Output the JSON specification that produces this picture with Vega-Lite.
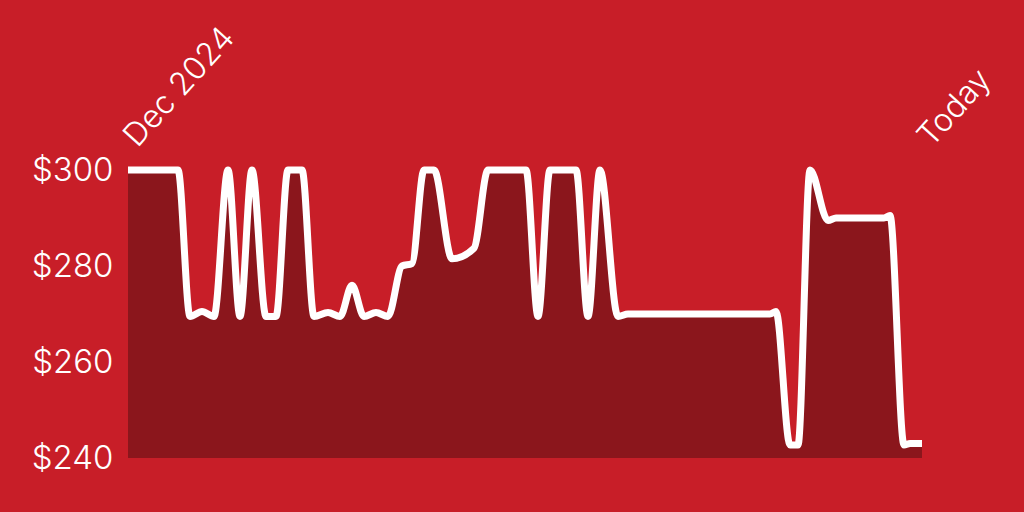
{
  "$schema": "https://vega.github.io/schema/vega-lite/v6.json",
  "width": 794,
  "height": 288,
  "autosize": {"type": "none"},
  "padding": {"left": 128, "top": 170, "right": 102, "bottom": 54},
  "background": "#C81E28",
  "config": {
    "view": {"stroke": null},
    "font": "Inter"
  },
  "data": {
    "values": [
      {"date": "2024-12-01", "price": 300},
      {"date": "2024-12-26", "price": 300},
      {"date": "2025-01-01", "price": 269.5},
      {"date": "2025-01-07", "price": 270.5},
      {"date": "2025-01-13", "price": 269.5},
      {"date": "2025-01-20", "price": 300},
      {"date": "2025-01-26", "price": 269.5},
      {"date": "2025-02-01", "price": 300},
      {"date": "2025-02-08", "price": 269.5},
      {"date": "2025-02-13", "price": 269.5},
      {"date": "2025-02-19", "price": 300},
      {"date": "2025-02-26", "price": 300},
      {"date": "2025-03-04", "price": 269.5},
      {"date": "2025-03-11", "price": 270.3},
      {"date": "2025-03-17", "price": 269.5},
      {"date": "2025-03-23", "price": 276},
      {"date": "2025-03-29", "price": 269.5},
      {"date": "2025-04-04", "price": 270.3},
      {"date": "2025-04-10", "price": 269.5},
      {"date": "2025-04-17", "price": 280},
      {"date": "2025-04-22", "price": 280.5},
      {"date": "2025-04-28", "price": 300},
      {"date": "2025-05-03", "price": 300},
      {"date": "2025-05-12", "price": 281.5},
      {"date": "2025-05-23", "price": 283.7},
      {"date": "2025-05-30", "price": 300},
      {"date": "2025-06-18", "price": 300},
      {"date": "2025-06-24", "price": 269.5},
      {"date": "2025-06-30", "price": 300},
      {"date": "2025-07-13", "price": 300},
      {"date": "2025-07-19", "price": 269.5},
      {"date": "2025-07-25", "price": 300},
      {"date": "2025-08-03", "price": 269.5},
      {"date": "2025-08-08", "price": 270},
      {"date": "2025-10-18", "price": 270},
      {"date": "2025-10-21", "price": 270.5},
      {"date": "2025-10-28", "price": 242.7},
      {"date": "2025-11-01", "price": 242.7},
      {"date": "2025-11-07", "price": 300},
      {"date": "2025-11-16", "price": 289.5},
      {"date": "2025-11-20", "price": 290},
      {"date": "2025-12-14", "price": 290},
      {"date": "2025-12-17", "price": 290.5},
      {"date": "2025-12-24", "price": 242.7},
      {"date": "2025-12-27", "price": 243},
      {"date": "2026-01-02", "price": 243}
    ]
  },
  "encoding": {
    "x": {
      "field": "date",
      "type": "temporal",
      "scale": {
        "type": "utc",
        "domain": [
          {"year": 2024, "month": 12, "date": 1, "utc": true},
          {"year": 2026, "month": 1, "date": 2, "utc": true}
        ]
      },
      "axis": {
        "orient": "top",
        "title": null,
        "domain": false,
        "ticks": false,
        "grid": false,
        "values": [
          {"year": 2024, "month": 12, "date": 1, "utc": true},
          {"year": 2026, "month": 1, "date": 2, "utc": true}
        ],
        "labelExpr": "datum.value < datetime(2025, 5, 1) ? 'Dec 2024' : 'Today'",
        "labelAngle": -48,
        "labelAlign": "left",
        "labelBaseline": "alphabetic",
        "labelPadding": 22,
        "labelOffset": 9,
        "labelFontSize": 32,
        "labelFontWeight": 300,
        "labelColor": "#FFFFFF",
        "labelFlush": false,
        "labelOverlap": false,
        "labelBound": false
      }
    },
    "y": {
      "field": "price",
      "type": "quantitative",
      "scale": {"domain": [240, 300], "nice": false, "zero": false},
      "axis": {
        "title": null,
        "domain": false,
        "ticks": false,
        "grid": false,
        "values": [240, 260, 280, 300],
        "format": "$.0f",
        "labelFontSize": 33,
        "labelFontWeight": 300,
        "labelColor": "#FFFFFF",
        "labelPadding": 15,
        "labelFlush": false,
        "labelBaseline": "middle"
      }
    }
  },
  "layer": [
    {
      "mark": {"type": "area", "interpolate": "monotone", "color": "#8B161C", "clip": false},
      "encoding": {"y2": {"datum": 240}}
    },
    {
      "mark": {"type": "line", "interpolate": "monotone", "color": "#FFFFFF", "strokeWidth": 7, "strokeCap": "butt", "strokeJoin": "round", "clip": false}
    }
  ]
}
